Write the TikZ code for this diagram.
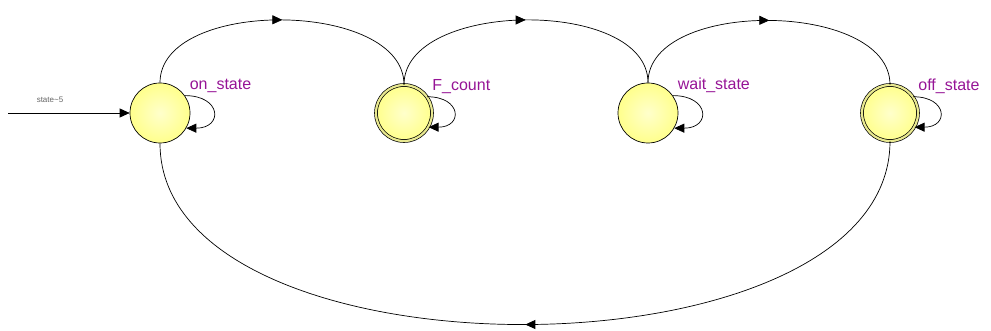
\documentclass[tikz,border=0pt]{standalone}
\usepackage{fontspec}
\setmainfont{Liberation Sans}
\usetikzlibrary{arrows.meta,decorations.markings}
\definecolor{stfill}{RGB}{255,255,140}
\definecolor{labpurple}{RGB}{150,20,150}
\tikzset{
  single/.style={circle, draw, minimum size=60pt, inner sep=0pt,
    shading=radial, inner color=stfill!45, outer color=stfill},
  accept/.style={circle, draw, minimum size=56pt, inner sep=0pt,
    double=stfill!90!black!85, double distance=2.2pt,
    shading=radial, inner color=stfill!45, outer color=stfill},
  lab/.style={font=\fontsize{16}{18}\selectfont, text=labpurple, inner sep=1pt, anchor=south west},
  tri/.style={-{Triangle[length=10pt,width=9pt]}},
  midarrow/.style={postaction={decorate}, decoration={markings,
    mark=at position 0.5 with {\arrow{Triangle[length=10pt,width=9pt]}}}}
}
\begin{document}
\begin{tikzpicture}[x=1pt, y=-1pt, line width=0.7pt]
  \useasboundingbox (0,0) rectangle (991,331);
  % States
  \foreach \n/\x/\st/\txt in {on/160/single/on\_state, fc/404/accept/F\_count,
      wait/648/single/wait\_state, off/890/accept/off\_state} {
    \node[\st] (\n) at (\x,113) {};
    \node[lab] (\n lab) at ([xshift=7pt, yshift=-2pt]\n.45) {\txt};
    % Self loop
    \draw[tri] (\n.35) to[out=0, in=0, looseness=2.9] (\n.-30);
  }
  % Reset transition
  \coordinate (start) at (8,113);
  \draw[tri] (start) -- (on.west);
  \node[font=\fontsize{8}{9}\selectfont, text=black!60] (rst) at (50,100) {state\textasciitilde5};
  % Forward arcs
  \draw[midarrow] (on.north) to[out=90, in=90, looseness=0.89] (fc.north);
  \draw[midarrow] (fc.north) to[out=90, in=90, looseness=0.89] (wait.north);
  \draw[midarrow] (wait.north) to[out=90, in=90, looseness=0.89] (off.north);
  % Back arc
  \draw[midarrow] (off.south) to[out=-90, in=-90, looseness=0.85] (on.south);
\end{tikzpicture}
\end{document}
